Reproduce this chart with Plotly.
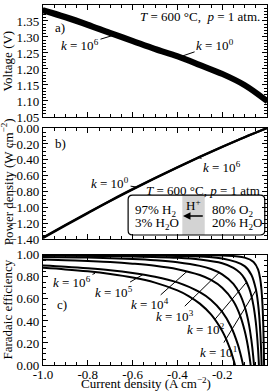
import plotly.graph_objects as go
from plotly.subplots import make_subplots

# ---- data ----
current = [-1.0, -0.9, -0.8, -0.7, -0.6, -0.5, -0.4, -0.3, -0.2, -0.1, 0.0]
voltage_k0 = [1.380, 1.358, 1.334, 1.309, 1.284, 1.259, 1.236, 1.209, 1.181, 1.146, 1.096]
voltage_k6 = [1.387, 1.366, 1.342, 1.316, 1.291, 1.266, 1.243, 1.216, 1.188, 1.153, 1.104]
power_k0 = [-1.380, -1.222, -1.067, -0.916, -0.770, -0.630, -0.494, -0.363, -0.236, -0.115, 0.0]
power_k6 = [-1.387, -1.229, -1.074, -0.921, -0.775, -0.633, -0.497, -0.365, -0.238, -0.115, 0.0]

fe_k6_x = [-1.0, -0.9, -0.8, -0.7, -0.6, -0.5, -0.4, -0.35, -0.3, -0.25, -0.2, -0.18, -0.165, -0.155, -0.145, -0.14]
fe_k6_y = [0.882, 0.868, 0.850, 0.826, 0.794, 0.748, 0.677, 0.626, 0.557, 0.459, 0.309, 0.224, 0.146, 0.085, 0.015, -0.024]
fe_k5_x = [-1.0, -0.9, -0.8, -0.7, -0.6, -0.5, -0.4, -0.3, -0.25, -0.2, -0.16, -0.13, -0.12, -0.11, -0.105]
fe_k5_y = [0.904, 0.893, 0.879, 0.861, 0.836, 0.802, 0.750, 0.661, 0.590, 0.482, 0.345, 0.185, 0.113, 0.029, -0.02]
fe_k4_x = [-1.0, -0.9, -0.8, -0.7, -0.6, -0.5, -0.4, -0.3, -0.25, -0.2, -0.15, -0.12, -0.1, -0.09, -0.08, -0.075, -0.07]
fe_k4_y = [0.957, 0.951, 0.943, 0.934, 0.920, 0.901, 0.870, 0.817, 0.772, 0.702, 0.579, 0.449, 0.314, 0.222, 0.104, 0.031, -0.052]
fe_k3_x = [-1.0, -0.8, -0.6, -0.5, -0.4, -0.3, -0.25, -0.2, -0.15, -0.12, -0.1, -0.09, -0.08, -0.07, -0.065, -0.06, -0.057]
fe_k3_y = [0.981, 0.975, 0.962, 0.951, 0.933, 0.900, 0.871, 0.823, 0.736, 0.639, 0.533, 0.459, 0.362, 0.231, 0.147, 0.046, -0.025]
fe_k2_x = [-1.0, -0.6, -0.4, -0.3, -0.2, -0.15, -0.12, -0.1, -0.08, -0.07, -0.06, -0.05, -0.045, -0.04, -0.037, -0.035]
fe_k2_y = [0.993, 0.985, 0.973, 0.958, 0.924, 0.882, 0.836, 0.784, 0.698, 0.631, 0.535, 0.389, 0.284, 0.146, 0.040, -0.043]
fe_k1_x = [-1.0, -0.6, -0.4, -0.2, -0.1, -0.07, -0.05, -0.04, -0.035, -0.03, -0.027, -0.025, -0.023]
fe_k1_y = [0.997, 0.994, 0.989, 0.966, 0.898, 0.820, 0.691, 0.558, 0.453, 0.300, 0.172, 0.063, -0.07]
fe_k0_x = [-1.0, -0.4, -0.2, -0.1, -0.06, -0.04, -0.03, -0.025, -0.02, -0.017, -0.015, -0.014, -0.013, -0.012]
fe_k0_y = [1.000, 0.998, 0.993, 0.975, 0.936, 0.868, 0.778, 0.692, 0.540, 0.383, 0.227, 0.125, 0.0, -0.155]

x_ticks = [-1.0, -0.8, -0.6, -0.4, -0.2, 0.0]
x_ticklabels = ["-1.0", "-0.8", "-0.6", "-0.4", "-0.2", "0.0"]

FONT = "Liberation Serif, Times New Roman, serif"
FS = 13
TF = dict(family=FONT, size=FS, color="black")

fig = make_subplots(rows=3, cols=1, shared_xaxes=True, vertical_spacing=0.03)

line_a = dict(color="black", width=4)
fig.add_trace(go.Scatter(x=current, y=voltage_k0, mode="lines", line=line_a, line_shape="spline"), row=1, col=1)
fig.add_trace(go.Scatter(x=current, y=voltage_k6, mode="lines", line=line_a, line_shape="spline"), row=1, col=1)

line_b = dict(color="black", width=2.2)
fig.add_trace(go.Scatter(x=current, y=power_k0, mode="lines", line=line_b, line_shape="spline"), row=2, col=1)
fig.add_trace(go.Scatter(x=current, y=power_k6, mode="lines", line=line_b, line_shape="spline"), row=2, col=1)

line_c = dict(color="black", width=2)
for xs, ys in [(fe_k6_x, fe_k6_y), (fe_k5_x, fe_k5_y), (fe_k4_x, fe_k4_y), (fe_k3_x, fe_k3_y),
               (fe_k2_x, fe_k2_y), (fe_k1_x, fe_k1_y), (fe_k0_x, fe_k0_y)]:
    fig.add_trace(go.Scatter(x=xs, y=ys, mode="lines", line=line_c, line_shape="spline"), row=3, col=1)

axis_common = dict(showline=True, linecolor="black", linewidth=1.2, mirror="allticks",
                   ticks="inside", ticklen=5, tickwidth=1, tickcolor="black",
                   showgrid=False, zeroline=False, automargin=False,
                   tickfont=TF)

for r in (1, 2, 3):
    fig.update_xaxes(range=[-1.0, 0.0], tickvals=x_ticks, ticktext=x_ticklabels,
                     minor=dict(dtick=0.05, tick0=0, ticks="inside", ticklen=3, tickcolor="black", showgrid=False),
                     showticklabels=(r == 3), ticklabelstandoff=-3, row=r, col=1, **axis_common)

fig.update_yaxes(range=[1.05, 1.40], dtick=0.05, tickformat=".2f",
                 minor=dict(dtick=0.01, ticks="inside", ticklen=3, tickcolor="black"),
                 row=1, col=1, **axis_common)
fig.update_yaxes(range=[-1.40, 0.0], dtick=0.2, tickformat=".2f",
                 minor=dict(dtick=0.05, ticks="inside", ticklen=3, tickcolor="black"),
                 row=2, col=1, **axis_common)
fig.update_yaxes(range=[0.0, 1.0], dtick=0.2, tickformat=".2f",
                 minor=dict(dtick=0.05, ticks="inside", ticklen=3, tickcolor="black"),
                 row=3, col=1, **axis_common)

fig.update_layout(
    width=275, height=391,
    margin=dict(l=43, r=8, t=5, b=26, autoexpand=False),
    plot_bgcolor="white", paper_bgcolor="white",
    showlegend=False,
    font=TF,
    yaxis=dict(domain=[0.689, 1.0]),
    yaxis2=dict(domain=[0.350, 0.658]),
    yaxis3=dict(domain=[0.0, 0.306]),
)

ann = []
def lab(text, x, y, xref, yref, xanchor="center", yanchor="middle", **kw):
    d = dict(text=text, x=x, y=y, xref=xref, yref=yref, showarrow=False, font=TF,
             xanchor=xanchor, yanchor=yanchor)
    d.update(kw)
    ann.append(d)

def kptr(text, x, y, xref, yref, ax, ay):
    ann.append(dict(text=text, x=x, y=y, xref=xref, yref=yref, showarrow=True,
                    arrowhead=0, arrowwidth=1, arrowcolor="black", ax=ax, ay=ay, standoff=0,
                    font=TF))

# axis titles
lab("Voltage (V)", -0.158, (1.0 + 0.689) / 2, "paper", "paper", textangle=-90)
lab("Power density (W cm<sup>−2</sup>)", -0.157, 0.51, "paper", "paper", textangle=-90)
lab("Faradaic efficiency", -0.158, 0.153, "paper", "paper", textangle=-90)
lab("Current density (A cm<sup>−2</sup>)", 0.46, -0.05, "paper", "paper")

# panel a
lab("a)", 0.045, 0.80, "x domain", "y domain", xanchor="left")
lab("<i>T</i> = 600 °C,  <i>p</i> = 1 atm.", 0.978, 0.893, "x domain", "y domain", xanchor="right")
kptr("<i>k</i> = 10<sup>6</sup>", -0.6875, 1.305, "x", "y", -33, 10)
kptr("<i>k</i> = 10<sup>0</sup>", -0.388, 1.238, "x", "y", 35, -12)

# panel b
lab("b)", 0.045, 0.865, "x2 domain", "y2 domain", xanchor="left")
kptr("<i>k</i> = 10<sup>6</sup>", -0.308, -0.366, "x2", "y2", 24, 10)
kptr("<i>k</i> = 10<sup>0</sup>", -0.58, -0.745, "x2", "y2", -27, -4)
lab("<i>T</i> = 600 °C, <i>p</i> = 1 atm", 0.978, 0.441, "x2 domain", "y2 domain", xanchor="right")
lab("97% H<sub>2</sub>", 0.40, 0.261, "x2 domain", "y2 domain", xanchor="left")
lab("3% H<sub>2</sub>O", 0.40, 0.144, "x2 domain", "y2 domain", xanchor="left")
lab("80% O<sub>2</sub>", 0.745, 0.261, "x2 domain", "y2 domain", xanchor="left")
lab("20% H<sub>2</sub>O", 0.745, 0.144, "x2 domain", "y2 domain", xanchor="left")
lab("H<sup>+</sup>", 0.67, 0.306, "x2 domain", "y2 domain")
ann.append(dict(x=0.625, y=0.207, ax=0.72, ay=0.207, xref="x2 domain", yref="y2 domain",
                axref="x2 domain", ayref="y2 domain", showarrow=True, arrowhead=2,
                arrowsize=1, arrowwidth=1.5, arrowcolor="black", text=""))

# panel c
lab("c)", 0.054, 0.545, "x3 domain", "y3 domain", xanchor="left")
kptr("<i>k</i> = 10<sup>6</sup>", -0.768, 0.832, "x3", "y3", -23, 9)
kptr("<i>k</i> = 10<sup>5</sup>", -0.554, 0.821, "x3", "y3", -29, 17)
kptr("<i>k</i> = 10<sup>4</sup>", -0.357, 0.85, "x3", "y3", -37, 33)
kptr("<i>k</i> = 10<sup>3</sup>", -0.214, 0.838, "x3", "y3", -44, 43)
kptr("<i>k</i> = 10<sup>2</sup>", -0.092, 0.75, "x3", "y3", -40, 47)
kptr("<i>k</i> = 10<sup>1</sup>", -0.049, 0.68, "x3", "y3", -38, 62)

fig.update_layout(annotations=ann)

fig.add_shape(type="rect", xref="x2 domain", yref="y2 domain", x0=0.622, x1=0.722, y0=0.036, y1=0.396,
              fillcolor="#d3d3d3", line=dict(width=0), layer="below")
x0, x1, y0, y1, rx, ry = 0.38, 0.99, 0.036, 0.396, 0.02, 0.04
box_path = (f"M {x0+rx},{y0} L {x1-rx},{y0} Q {x1},{y0} {x1},{y0+ry} L {x1},{y1-ry} "
            f"Q {x1},{y1} {x1-rx},{y1} L {x0+rx},{y1} Q {x0},{y1} {x0},{y1-ry} "
            f"L {x0},{y0+ry} Q {x0},{y0} {x0+rx},{y0} Z")
fig.add_shape(type="path", path=box_path, xref="x2 domain", yref="y2 domain",
              line=dict(color="black", width=1.2))

fig.write_html("out.html", post_script="document.body.style.margin='0px';",
               config={"displayModeBar": False})
